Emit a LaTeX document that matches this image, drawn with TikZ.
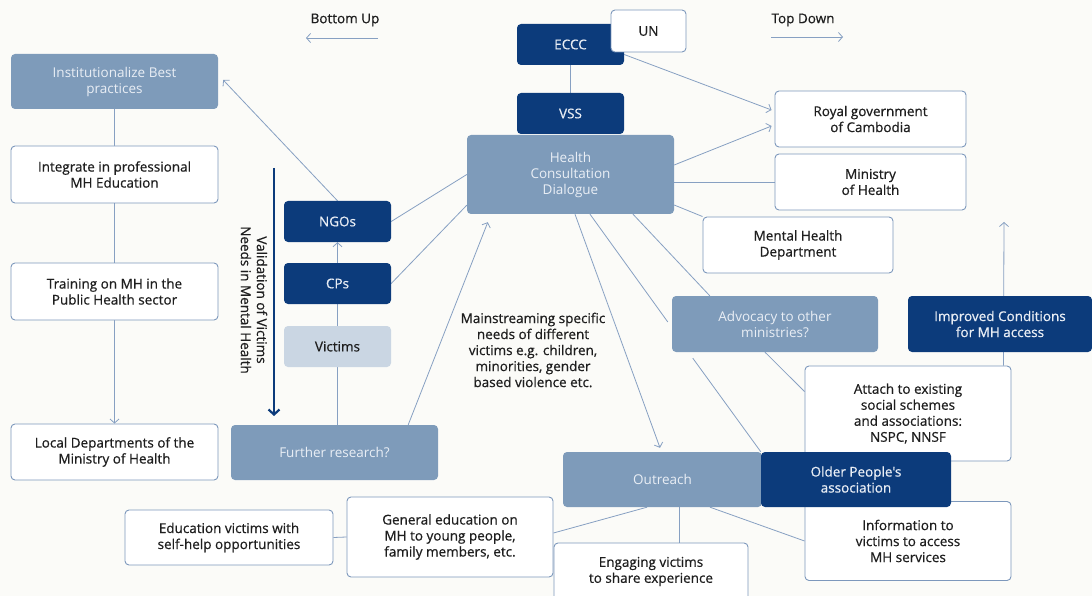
\documentclass[tikz,border=0pt]{standalone}
\usepackage{fontspec}
\setmainfont{Open Sans}
\newfontfamily\medfont{Open Sans}[FakeBold=0.6]
\usetikzlibrary{arrows.meta,calc}
\definecolor{bgc}{HTML}{FBFBF8}
\definecolor{midb}{HTML}{7E9BBA}
\definecolor{navy}{HTML}{0C3B7B}
\definecolor{lightb}{HTML}{CAD6E3}
\definecolor{edgec}{HTML}{7D98BC}
\definecolor{linec}{HTML}{87A0C2}
\definecolor{txt}{HTML}{1E1E1E}
\definecolor{ltxt}{HTML}{E9EEF5}
\pgfdeclarelayer{bg}\pgfdeclarelayer{lines}\pgfsetlayers{bg,lines,main}
\tikzset{
  box/.style={rectangle, rounded corners=4pt, align=center, inner sep=0pt, font=\medfont\fontsize{13.5}{16}\selectfont},
  sz/.style 2 args={minimum width=#1pt, minimum height=#2pt},
  wbox/.style={box, draw=edgec, line width=0.9pt, fill=white, text=txt},
  mbox/.style={box, fill=midb, text=ltxt, font=\normalfont\fontsize{13.5}{16}\selectfont},
  nbox/.style={box, fill=navy, text=ltxt},
  lbox/.style={box, fill=lightb, text=txt},
  conn/.style={draw=linec, line width=0.8pt},
  arr/.style={conn, -{Straight Barb[length=4pt,width=9pt]}},
  plain/.style={align=center, text=txt, font=\medfont\fontsize{13.5}{16}\selectfont, inner sep=0pt},
}
\begin{document}
\begin{tikzpicture}[x=1pt,y=-1pt]
\useasboundingbox (0,0) rectangle (1092,596);
\begin{pgfonlayer}{bg}
\fill[bgc] (0,0) rectangle (1092,596);
\end{pgfonlayer}

% headings
\node[plain] (bu) at (345,20) {Bottom Up};
\node[plain] (td) at (803,20) {Top Down};
\coordinate (bua) at (378,38); \coordinate (bub) at (306,38);
\coordinate (tda) at (771,37); \coordinate (tdb) at (843,37);

% left column
\node[mbox, sz={207}{55}] (inst) at (114.5,81.5) {Institutionalize Best\\practices};
\node[wbox, sz={207}{57}] (integ) at (114.5,174.5) {Integrate in professional\\MH Education};
\node[wbox, sz={207}{57}] (train) at (114.5,291.5) {Training on MH in the\\Public Health sector};
\node[wbox, sz={207}{56}] (local) at (114.5,452) {Local Departments of the\\Ministry of Health};

% validation arrow
\coordinate (vtop) at (274,168); \coordinate (vbot) at (274,416);
\node[plain, rotate=-90] (valtxt) at (254,300) {Validation of Victims\\Needs in Mental Health};

% victims column
\node[nbox, sz={107}{41}] (ngo) at (337.5,221.5) {NGOs};
\node[nbox, sz={107}{41}] (cps) at (337.5,283.5) {CPs};
\node[lbox, sz={107}{41}] (vic) at (337.5,346.5) {Victims};
\node[mbox, sz={207}{55}] (further) at (334.5,452.5) {Further research?};

\node[plain] (mainst) at (533,350) {Mainstreaming specific\\needs of different\\victims e.g. children,\\minorities, gender\\based violence etc.};

% center
\node[nbox, sz={107}{41}] (eccc) at (570.5,44.5) {ECCC};
\node[wbox, sz={75}{42}] (un) at (648.5,31) {UN};
\node[nbox, sz={107}{41}] (vss) at (570.5,113.5) {VSS};
\node[mbox, sz={207}{79}] (hcd) at (570.5,174.5) {Health\\Consultation\\Dialogue};

% right
\node[wbox, sz={191}{56}] (royal) at (870.5,119) {Royal government\\of Cambodia};
\node[wbox, sz={191}{56}] (moh) at (870.5,182) {Ministry\\of Health};
\node[wbox, sz={190}{56}] (mhd) at (798,245) {Mental Health\\Department};
\node[mbox, sz={206}{56}] (adv) at (775,324) {Advocacy to other\\ministries?};
\node[nbox, sz={184}{56}] (impr) at (1000,324) {Improved Conditions\\for MH access};
\coordinate (imprtop) at (1004,222);
\node[wbox, sz={206}{95}] (attach) at (908,413.5) {Attach to existing\\social schemes\\and associations:\\NSPC, NNSF};
\node[wbox, sz={206}{79}] (info) at (908,541) {Information to\\victims to access\\MH services};
\node[mbox, sz={199}{55}] (outreach) at (662.5,479.5) {Outreach};
\node[nbox, sz={190}{55}] (older) at (856,479.5) {Older People's\\association};

% bottom
\node[wbox, sz={208}{55}] (edu) at (229,537.5) {Education victims with\\self-help opportunities};
\node[wbox, sz={206}{80}] (general) at (450,537) {General education on\\MH to young people,\\family members, etc.};
\node[wbox, sz={194}{57}] (engage) at (651,571.5) {Engaging victims\\to share experience};

\begin{pgfonlayer}{lines}
\draw[arr] (bua) -- (bub);
\draw[arr] (tda) -- (tdb);
\draw[navy, line width=2.2pt, -{Straight Barb[length=5pt,width=11pt]}] (vtop) -- (vbot);

\draw[conn] (inst.south) -- (integ.north);
\draw[conn] (integ.south) -- (train.north);
\draw[arr] (train.south) -- (local.north);
\draw[arr] (ngo.north) -- ([xshift=5pt,yshift=1.5pt]inst.east);

\draw[conn] (vic.south) -- (vic.south |- further.north);
\draw[conn] (vic.north) -- (cps.south);
\draw[arr] (cps.north) -- (ngo.south);
\draw[conn] (ngo.east) -- (hcd.west);
\draw[conn] (cps.east) -- ([yshift=9pt]hcd.south west);
\draw[arr] ([xshift=-30pt]further.north east) -- ([xshift=21pt,yshift=-8pt]hcd.south west);

\draw[conn] (eccc.south) -- (vss.north);
\draw[arr] ([yshift=-10pt]eccc.east) -- ([xshift=-3pt,yshift=9pt]royal.west);
\draw[arr] ([yshift=9.5pt]hcd.east) -- ([xshift=-3pt,yshift=-7pt]royal.west);
\draw[conn] (moh.west -| hcd.east) -- (moh.west);
\draw[conn] ([yshift=-30.5pt]hcd.east) -- (mhd.north west);

\draw[arr] ([xshift=4.5pt]hcd.south) -- ([xshift=-2.5pt,yshift=4pt]outreach.north);
\draw[conn] ([xshift=19.5pt]hcd.south) -- ([xshift=-4pt,yshift=2pt]adv.west);
\draw[conn] ([xshift=62.5pt]hcd.south) -- ([xshift=38pt]adv.north west);
\draw[conn] ([xshift=21pt,yshift=-6pt]adv.south west) -- (older.north west);
\draw[conn] ([xshift=-10pt]adv.south) -- ([yshift=-26pt]attach.north west);
\draw[arr] ([xshift=-8pt]attach.north east) -- (imprtop);

\draw[conn] ([xshift=-15.5pt]outreach.south) -- ([yshift=4pt]general.east);
\draw[conn] ([xshift=16.5pt]outreach.south) -- ([xshift=16.5pt]outreach.south |- engage.north);
\draw[conn] ([xshift=47.5pt]outreach.south) -- (info.west);
\draw[conn] (edu.east) -- (general.west);
\end{pgfonlayer}
\end{tikzpicture}
\end{document}
